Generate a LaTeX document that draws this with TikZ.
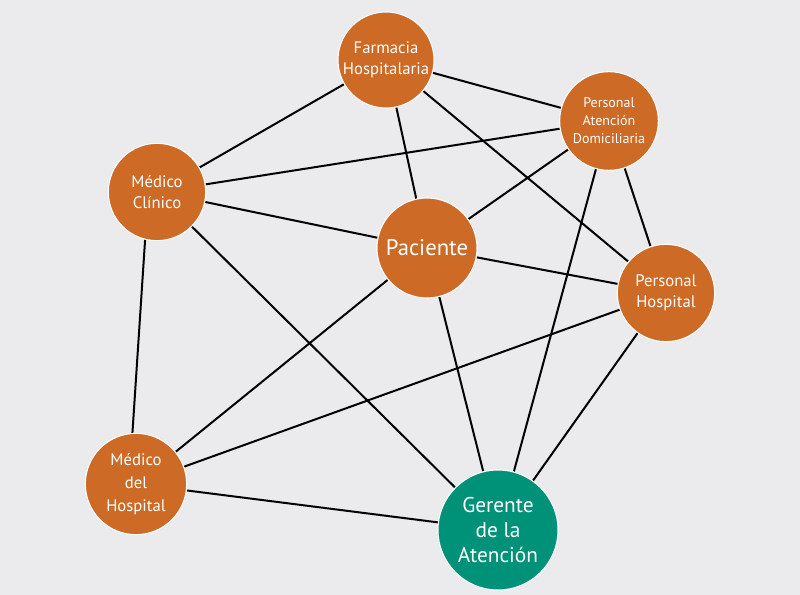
\documentclass[tikz,border=0pt]{standalone}
\usepackage{fontspec}
\setmainfont{PT Sans}
\usetikzlibrary{backgrounds}
\definecolor{bgc}{HTML}{EBEBED}
\definecolor{orng}{HTML}{CC6A26}
\definecolor{teal}{HTML}{009179}
\tikzset{
  actor/.style={circle, fill=orng, draw=white, line width=0.8pt, text=white, align=center, inner sep=0pt},
  link/.style={line width=1.5pt, black}
}
\begin{document}
\begin{tikzpicture}[x=0.75pt, y=-0.75pt]
\begin{pgfonlayer}{background}
\fill[bgc] (0,0) rectangle (800,595);
\end{pgfonlayer}
\useasboundingbox (0,0) rectangle (800,595);
\node[actor, minimum size=72pt, font=\fontsize{12.5}{16}\selectfont] (far) at (386,60) {Farmacia\\Hospitalaria};
\node[actor, minimum size=74pt, font=\fontsize{10.5}{13.5}\selectfont] (pad) at (609,121) {Personal\\Atención\\Domiciliaria};
\node[actor, minimum size=73pt, font=\fontsize{12.5}{16}\selectfont] (mc) at (157,192) {Médico\\Clínico};
\node[actor, minimum size=75pt, font=\fontsize{17}{20}\selectfont] (pac) at (427,248) {Paciente};
\node[actor, minimum size=73pt, font=\fontsize{12.5}{16}\selectfont] (ph) at (666,293) {Personal\\Hospital};
\node[actor, minimum size=76pt, font=\fontsize{12.5}{17}\selectfont] (mh) at (136,484) {Médico\\del\\Hospital};
\node[actor, fill=teal, minimum size=90pt, font=\fontsize{16}{19}\selectfont] (ger) at (498,530) {Gerente\\de la\\Atención};
\begin{pgfonlayer}{background}
\draw[link] (far) -- (mc);
\draw[link] (far) -- (pad);
\draw[link] (far) -- (pac);
\draw[link] (far) -- (ph);
\draw[link] (mc) -- (pad);
\draw[link] (mc) -- (pac);
\draw[link] (mc.256) -- (mh.94);
\draw[link] (mc) -- (ger);
\draw[link] (pad) -- (pac);
\draw[link] (pad) -- (ger);
\draw[link] (pad) -- (ph);
\draw[link] (pac) -- (ph);
\draw[link] (pac) -- (mh);
\draw[link] (pac) -- (ger);
\draw[link] (ph) -- (mh);
\draw[link] (ph) -- (ger);
\draw[link] (mh) -- (ger);
\end{pgfonlayer}
\end{tikzpicture}
\end{document}
